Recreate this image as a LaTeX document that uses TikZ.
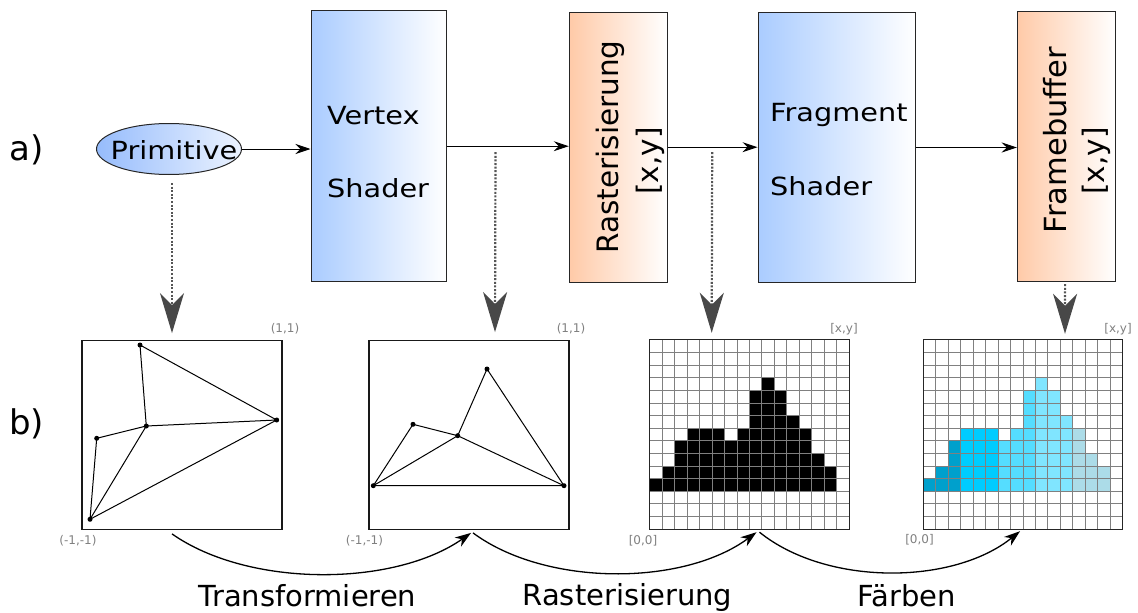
\documentclass[tikz,border=0pt]{standalone}
\usepackage{fontspec}
\setmainfont{DejaVu Sans}
\newfontfamily\bxfont[FakeStretch=1.15]{DejaVu Sans}
\usetikzlibrary{arrows.meta,shapes.geometric,calc}
\definecolor{bluel}{RGB}{170,204,255}
\definecolor{orl}{RGB}{255,202,168}
\definecolor{ellL}{RGB}{150,188,252}
\definecolor{ellR}{RGB}{236,243,255}
\definecolor{probec}{RGB}{85,85,85}
\definecolor{headc}{RGB}{72,72,72}
\definecolor{labc}{RGB}{128,128,128}
\definecolor{ccA}{RGB}{0,160,204}
\definecolor{ccB}{RGB}{0,204,255}
\definecolor{ccC}{RGB}{85,221,255}
\definecolor{ccD}{RGB}{128,229,255}
\definecolor{ccE}{RGB}{172,220,232}
\begin{document}
\begin{tikzpicture}[x=1pt,y=-1pt,
  stage/.style={draw=black!85, line width=1pt, inner sep=0pt},
  bluebox/.style={stage, left color=bluel, right color=white},
  orbox/.style={stage, left color=orl, right color=white},
  boxtxt/.style={inner sep=0pt, font=\bxfont\fontsize{25}{30}\selectfont},
  rottxt/.style={inner sep=0pt, rotate=90, anchor=base, font=\fontsize{29.5}{34}\selectfont},
  bigtxt/.style={inner sep=0pt, font=\fontsize{29}{34}\selectfont},
  parttxt/.style={inner sep=0pt, anchor=base west, font=\fontsize{34}{40}\selectfont},
  smalltxt/.style={inner sep=0pt, text=labc, font=\fontsize{12}{14}\selectfont},
  flow/.style={-{Stealth[length=15pt,width=10pt,inset=5pt]}, line width=1pt},
  curvearrow/.style={-{Stealth[length=16pt,width=11pt,inset=5pt]}, line width=1.3pt},
  probe/.style={draw=probec, line width=2.2pt, dash pattern=on 2pt off 1.6pt,
    -{Stealth[length=40pt,width=24pt,inset=12pt,fill=headc,color=headc]}},
  panel/.style={draw=black!90, line width=1.2pt, inner sep=0pt, minimum width=200pt, minimum height=188.6pt},
  gridpanel/.style={inner sep=0pt, minimum width=199pt, minimum height=189pt},
  gline/.style={draw=black!50, line width=0.9pt},
  vdot/.style={circle, fill=black, inner sep=0pt, minimum size=5pt}
]
\useasboundingbox (0,0) rectangle (1138,613);

% ---------- top row ----------
\node[ellipse, draw=black!85, line width=1pt, minimum width=145pt, minimum height=51pt,
      inner sep=0pt, left color=ellL, right color=ellR] (prim) at (169,149) {};
\node[boxtxt, anchor=base] (primt) at (174,159) {Primitive};

\node[bluebox, minimum width=135.7pt, minimum height=271pt] (vs) at (378.85,146.2) {};
\node[boxtxt, anchor=base west] (vs1) at (327,124) {Vertex};
\node[boxtxt, anchor=base west] (vs2) at (327,197) {Shader};

\node[orbox, minimum width=98pt, minimum height=270.3pt] (rs) at (618.3,147.2) {};
\node[rottxt] (rs1) at (618,147) {Rasterisierung};
\node[rottxt] (rs2) at (658,161) {[x,y]};

\node[bluebox, minimum width=157.7pt, minimum height=270.4pt] (fs) at (836.85,147.5) {};
\node[boxtxt, anchor=base west] (fs1) at (770,121) {Fragment};
\node[boxtxt, anchor=base west] (fs2) at (770,195) {Shader};

\node[orbox, minimum width=98.7pt, minimum height=270pt] (fb) at (1066.6,146.7) {};
\node[rottxt, font=\fontsize{30.5}{35}\selectfont] (fb1) at (1066,140) {Framebuffer};
\node[rottxt] (fb2) at (1104.5,161) {[x,y]};

\draw[flow] (prim.east) -- (prim.east -| vs.west);
\draw[flow] (vs.east) -- (vs.east -| rs.west);
\draw[flow] (rs.east) -- (rs.east -| fs.west);
\draw[flow] (fs.east) -- (fs.east -| fb.west);

\node[parttxt] (pa) at (9,160) {a)};
\node[parttxt] (pb) at (9,434) {b)};

% ---------- bottom row ----------
\node[panel] (t1) at (182,435) {};
\node[panel] (t2) at (469,435) {};
\node[gridpanel] (g1) at (749.5,434.5) {};
\node[gridpanel] (g2) at (1023,434.5) {};

% triangles 1
\coordinate (a1) at (140,345);
\coordinate (b1) at (146.3,426);
\coordinate (c1) at (96.7,438.3);
\coordinate (d1) at (276.7,420);
\coordinate (e1) at (90,519.3);
\draw[line width=1pt] (a1) -- (b1) (a1) -- (d1) (b1) -- (d1) (b1) -- (c1)
  (c1) -- (e1) (b1) -- (e1) (e1) -- (d1);
\foreach \p in {a1,b1,c1,d1,e1} \node[vdot] at (\p) {};

% triangles 2
\coordinate (a2) at (487,369);
\coordinate (b2) at (413,424.3);
\coordinate (c2) at (457.7,435.7);
\coordinate (d2) at (373.3,485.7);
\coordinate (e2) at (564,485.7);
\draw[line width=1pt] (d2) -- (b2) (b2) -- (c2) (c2) -- (a2) (a2) -- (e2)
  (d2) -- (c2) (c2) -- (e2) (d2) -- (e2);
\foreach \p in {a2,b2,c2,d2,e2} \node[vdot] at (\p) {};

% raster grids
\def\gcw{12.4375}
\def\gch{12.6}
\foreach \r/\a/\b in {3/9/9,4/8/10,5/8/10,6/8/11,7/3/5,7/7/12,8/2/12,9/2/13,10/1/14,11/0/14}{
  \foreach \c in {\a,...,\b}{
    \fill[black] (650+\c*\gcw,340+\r*\gch) rectangle ++(\gcw,\gch);
    \pgfmathtruncatemacro\k{int(\c/3)}
    \ifcase\k \def\cc{ccA}\or \def\cc{ccB}\or \def\cc{ccC}\or \def\cc{ccD}\else \def\cc{ccE}\fi
    \fill[\cc] (923.5+\c*\gcw,340+\r*\gch) rectangle ++(\gcw,\gch);
  }
}
\foreach \i in {1,...,15}{
  \draw[gline] (650+\i*\gcw,340) -- (650+\i*\gcw,529);
  \draw[gline] (923.5+\i*\gcw,340) -- (923.5+\i*\gcw,529);
}
\foreach \j in {1,...,14}{
  \draw[gline] (650,340+\j*\gch) -- (849,340+\j*\gch);
  \draw[gline] (923.5,340+\j*\gch) -- (1122.5,340+\j*\gch);
}
\draw[line width=1.1pt, draw=black!85] (g1.north west) rectangle (g1.south east);
\draw[line width=1.1pt, draw=black!85] (g2.north west) rectangle (g2.south east);

% corner labels
\node[smalltxt] (l11) at (285,329) {(1,1)};
\node[smalltxt] (l12) at (78,541) {(-1,-1)};
\node[smalltxt] (l21) at (571,329) {(1,1)};
\node[smalltxt] (l22) at (364.5,541) {(-1,-1)};
\node[smalltxt] (l31) at (844,329) {[x,y]};
\node[smalltxt] (l32) at (643,541) {[0,0]};
\node[smalltxt] (l41) at (1118,329) {[x,y]};
\node[smalltxt] (l42) at (919.5,540) {[0,0]};

% probes (dotted arrows)
\draw[probe] ($(prim.south)+(3,8)$) -- ($(t1.north)+(-10,-7)$);
\draw[probe] ($(vs.east)+(48.3,6)$) -- ($(t2.north)+(26,-8)$);
\draw[probe] ($(rs.east)+(44.4,5)$) -- ($(g1.north)+(-37.8,-7)$);
\draw[probe] ($(fb.south)+(-1.5,2)$) -- ($(g2.north)+(42,-6)$);

% bottom curved arrows
\draw[curvearrow] ($(t1.south)+(-10,4)$) .. controls +(77,54) and +(-77,54) .. ($(t2.south)+(2,3)$);
\draw[curvearrow] ($(t2.south)+(4,3)$) .. controls +(73,54) and +(-73,54) .. ($(g1.south)+(7,3)$);
\draw[curvearrow] ($(g1.south)+(10,3)$) .. controls +(67,54) and +(-67,54) .. ($(g2.south)+(-3,2)$);

\node[bigtxt, anchor=base] (lb1) at (307.5,606) {Transformieren};
\node[bigtxt, anchor=base] (lb2) at (627.5,605) {Rasterisierung};
\node[bigtxt, anchor=base] (lb3) at (906.5,606) {Färben};
\end{tikzpicture}
\end{document}
